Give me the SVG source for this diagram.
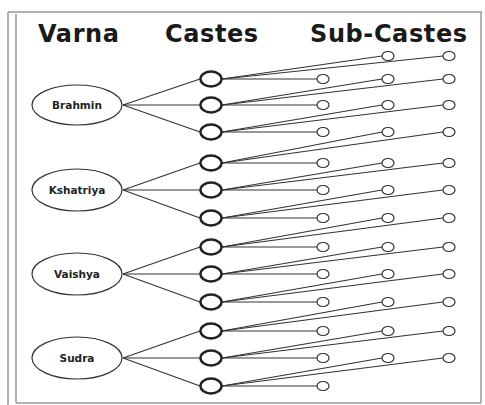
<svg xmlns="http://www.w3.org/2000/svg" width="485" height="405" viewBox="0 0 485 405">
<style>
.title{font-family:"DejaVu Sans","Liberation Sans",sans-serif;font-weight:bold;font-size:24px;fill:#1a1a1a;letter-spacing:0.6px}
.lbl{font-family:"DejaVu Sans","Liberation Sans",sans-serif;font-weight:bold;font-size:10.5px;fill:#222;text-anchor:middle}
.varna{fill:#fff;stroke:#333;stroke-width:1.2}
.caste{fill:#fff;stroke:#222;stroke-width:2.4}
.sub{fill:#fff;stroke:#333;stroke-width:1.2}
.conn line{stroke:#333;stroke-width:1.2}
.frame{fill:none;stroke:#999;stroke-width:1.5}
</style>
<rect width="485" height="405" fill="#fff"/>
<g id="frame">
<line class="frame" x1="8" y1="12" x2="8" y2="405"/>
<line class="frame" x1="8" y1="12" x2="482" y2="12"/>
<line class="frame" x1="16" y1="14" x2="16" y2="403"/>
<line class="frame" x1="481" y1="12" x2="481" y2="403"/>
<line class="frame" x1="16" y1="403" x2="481" y2="403"/>
</g>
<g id="titles">
<text class="title" x="38" y="42">Varna</text>
<text class="title" x="165" y="42">Castes</text>
<text class="title" x="310" y="42">Sub-Castes</text>
</g>
<g id="connectors" class="conn">
<line x1="123" y1="105" x2="200" y2="79"/>
<line x1="123" y1="105" x2="200" y2="105"/>
<line x1="123" y1="105" x2="200" y2="132"/>
<line x1="123" y1="190" x2="200" y2="163"/>
<line x1="123" y1="190" x2="200" y2="190"/>
<line x1="123" y1="190" x2="200" y2="218"/>
<line x1="123" y1="274" x2="200" y2="247"/>
<line x1="123" y1="274" x2="200" y2="274"/>
<line x1="123" y1="274" x2="200" y2="302"/>
<line x1="123" y1="358" x2="200" y2="331"/>
<line x1="123" y1="358" x2="200" y2="358"/>
<line x1="123" y1="358" x2="200" y2="386"/>
<line x1="222" y1="79" x2="317" y2="79"/><line x1="222" y1="79" x2="382" y2="56"/><line x1="222" y1="79" x2="443" y2="56"/>
<line x1="222" y1="105" x2="317" y2="105"/><line x1="222" y1="105" x2="382" y2="79"/><line x1="222" y1="105" x2="443" y2="79"/>
<line x1="222" y1="132" x2="317" y2="132"/><line x1="222" y1="132" x2="382" y2="105"/><line x1="222" y1="132" x2="443" y2="105"/>
<line x1="222" y1="163" x2="317" y2="163"/><line x1="222" y1="163" x2="382" y2="132"/><line x1="222" y1="163" x2="443" y2="132"/>
<line x1="222" y1="190" x2="317" y2="190"/><line x1="222" y1="190" x2="382" y2="163"/><line x1="222" y1="190" x2="443" y2="163"/>
<line x1="222" y1="218" x2="317" y2="218"/><line x1="222" y1="218" x2="382" y2="190"/><line x1="222" y1="218" x2="443" y2="190"/>
<line x1="222" y1="247" x2="317" y2="247"/><line x1="222" y1="247" x2="382" y2="218"/><line x1="222" y1="247" x2="443" y2="218"/>
<line x1="222" y1="274" x2="317" y2="274"/><line x1="222" y1="274" x2="382" y2="247"/><line x1="222" y1="274" x2="443" y2="247"/>
<line x1="222" y1="302" x2="317" y2="302"/><line x1="222" y1="302" x2="382" y2="274"/><line x1="222" y1="302" x2="443" y2="274"/>
<line x1="222" y1="331" x2="317" y2="331"/><line x1="222" y1="331" x2="382" y2="302"/><line x1="222" y1="331" x2="443" y2="302"/>
<line x1="222" y1="358" x2="317" y2="358"/><line x1="222" y1="358" x2="382" y2="331"/><line x1="222" y1="358" x2="443" y2="331"/>
<line x1="222" y1="386" x2="317" y2="386"/><line x1="222" y1="386" x2="382" y2="358"/><line x1="222" y1="386" x2="443" y2="358"/>
</g>
<g id="varna-brahmin"><ellipse class="varna" cx="77" cy="105" rx="45" ry="20"/><text class="lbl" x="77" y="109">Brahmin</text></g>
<g id="varna-kshatriya"><ellipse class="varna" cx="77" cy="190" rx="45" ry="21"/><text class="lbl" x="77" y="194">Kshatriya</text></g>
<g id="varna-vaishya"><ellipse class="varna" cx="77" cy="274" rx="45" ry="21"/><text class="lbl" x="77" y="278">Vaishya</text></g>
<g id="varna-sudra"><ellipse class="varna" cx="77" cy="358" rx="45" ry="21"/><text class="lbl" x="77" y="362">Sudra</text></g>
<g id="castes">
<ellipse class="caste" cx="211" cy="79" rx="10.5" ry="7.5"/>
<ellipse class="caste" cx="211" cy="105" rx="10.5" ry="7.5"/>
<ellipse class="caste" cx="211" cy="132" rx="10.5" ry="7.5"/>
<ellipse class="caste" cx="211" cy="163" rx="10.5" ry="7.5"/>
<ellipse class="caste" cx="211" cy="190" rx="10.5" ry="7.5"/>
<ellipse class="caste" cx="211" cy="218" rx="10.5" ry="7.5"/>
<ellipse class="caste" cx="211" cy="247" rx="10.5" ry="7.5"/>
<ellipse class="caste" cx="211" cy="274" rx="10.5" ry="7.5"/>
<ellipse class="caste" cx="211" cy="302" rx="10.5" ry="7.5"/>
<ellipse class="caste" cx="211" cy="331" rx="10.5" ry="7.5"/>
<ellipse class="caste" cx="211" cy="358" rx="10.5" ry="7.5"/>
<ellipse class="caste" cx="211" cy="386" rx="10.5" ry="7.5"/>
</g>
<g id="subcastes-col1">
<ellipse class="sub" cx="323" cy="79" rx="6" ry="4.5"/>
<ellipse class="sub" cx="323" cy="105" rx="6" ry="4.5"/>
<ellipse class="sub" cx="323" cy="132" rx="6" ry="4.5"/>
<ellipse class="sub" cx="323" cy="163" rx="6" ry="4.5"/>
<ellipse class="sub" cx="323" cy="190" rx="6" ry="4.5"/>
<ellipse class="sub" cx="323" cy="218" rx="6" ry="4.5"/>
<ellipse class="sub" cx="323" cy="247" rx="6" ry="4.5"/>
<ellipse class="sub" cx="323" cy="274" rx="6" ry="4.5"/>
<ellipse class="sub" cx="323" cy="302" rx="6" ry="4.5"/>
<ellipse class="sub" cx="323" cy="331" rx="6" ry="4.5"/>
<ellipse class="sub" cx="323" cy="358" rx="6" ry="4.5"/>
<ellipse class="sub" cx="323" cy="386" rx="6" ry="4.5"/>
</g>
<g id="subcastes-col2">
<ellipse class="sub" cx="388" cy="56" rx="6" ry="4.5"/>
<ellipse class="sub" cx="388" cy="79" rx="6" ry="4.5"/>
<ellipse class="sub" cx="388" cy="105" rx="6" ry="4.5"/>
<ellipse class="sub" cx="388" cy="132" rx="6" ry="4.5"/>
<ellipse class="sub" cx="388" cy="163" rx="6" ry="4.5"/>
<ellipse class="sub" cx="388" cy="190" rx="6" ry="4.5"/>
<ellipse class="sub" cx="388" cy="218" rx="6" ry="4.5"/>
<ellipse class="sub" cx="388" cy="247" rx="6" ry="4.5"/>
<ellipse class="sub" cx="388" cy="274" rx="6" ry="4.5"/>
<ellipse class="sub" cx="388" cy="302" rx="6" ry="4.5"/>
<ellipse class="sub" cx="388" cy="331" rx="6" ry="4.5"/>
<ellipse class="sub" cx="388" cy="358" rx="6" ry="4.5"/>
</g>
<g id="subcastes-col3">
<ellipse class="sub" cx="449" cy="56" rx="6" ry="4.5"/>
<ellipse class="sub" cx="449" cy="79" rx="6" ry="4.5"/>
<ellipse class="sub" cx="449" cy="105" rx="6" ry="4.5"/>
<ellipse class="sub" cx="449" cy="132" rx="6" ry="4.5"/>
<ellipse class="sub" cx="449" cy="163" rx="6" ry="4.5"/>
<ellipse class="sub" cx="449" cy="190" rx="6" ry="4.5"/>
<ellipse class="sub" cx="449" cy="218" rx="6" ry="4.5"/>
<ellipse class="sub" cx="449" cy="247" rx="6" ry="4.5"/>
<ellipse class="sub" cx="449" cy="274" rx="6" ry="4.5"/>
<ellipse class="sub" cx="449" cy="302" rx="6" ry="4.5"/>
<ellipse class="sub" cx="449" cy="331" rx="6" ry="4.5"/>
<ellipse class="sub" cx="449" cy="358" rx="6" ry="4.5"/>
</g>
</svg>
